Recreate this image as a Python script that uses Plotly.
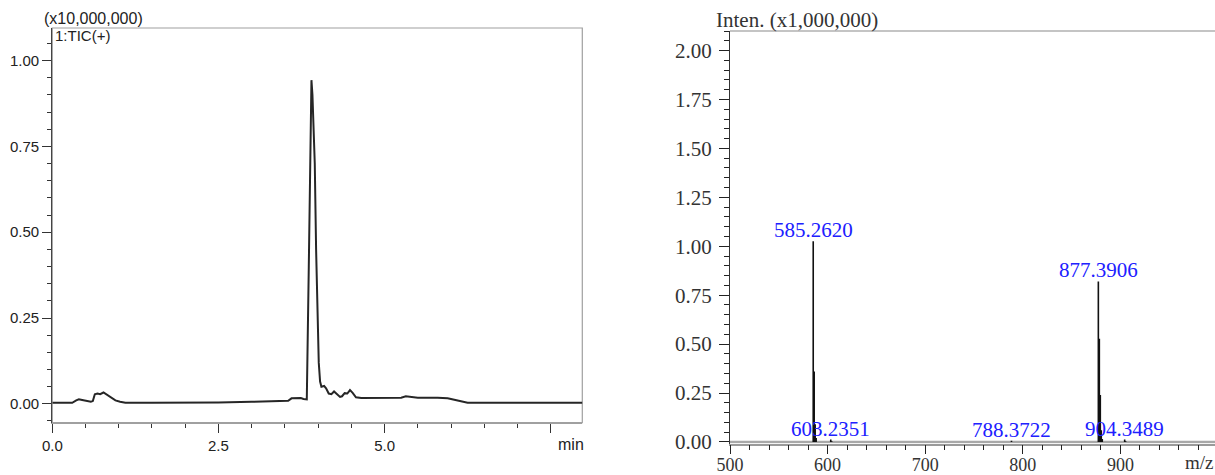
import plotly.graph_objects as go

W, H = 1215, 475

# ---------------- data ----------------
# Chromatogram (TIC), time in min, intensity in units of 10,000,000
tic_time = [0.00, 0.30, 0.36, 0.40, 0.45, 0.52, 0.58, 0.61, 0.64, 0.68, 0.72, 0.77, 0.82, 0.88,
            0.95, 1.02, 1.10, 1.50, 2.00, 2.50, 3.00, 3.40, 3.55, 3.60, 3.66, 3.70, 3.74, 3.78,
            3.82, 3.83, 3.86, 3.89, 3.90, 3.915, 3.93, 3.95, 3.97, 3.99, 4.01, 4.03, 4.05, 4.09,
            4.12, 4.16, 4.20, 4.24, 4.28, 4.33, 4.36, 4.40, 4.44, 4.48, 4.52, 4.57, 4.65, 5.00,
            5.25, 5.32, 5.38, 5.50, 5.80, 5.95, 6.05, 6.15, 6.25, 7.98]
tic_inten = [0.003, 0.003, 0.010, 0.013, 0.011, 0.008, 0.006, 0.008, 0.028, 0.030, 0.028, 0.033,
             0.026, 0.018, 0.010, 0.006, 0.003, 0.003, 0.003, 0.004, 0.006, 0.008, 0.009, 0.016,
             0.016, 0.015, 0.017, 0.014, 0.013, 0.013, 0.40, 0.90, 0.943, 0.90, 0.80, 0.70, 0.45,
             0.25, 0.12, 0.065, 0.050, 0.052, 0.045, 0.030, 0.028, 0.036, 0.028, 0.020, 0.022,
             0.031, 0.030, 0.040, 0.032, 0.019, 0.017, 0.017, 0.018, 0.022, 0.020, 0.018, 0.018,
             0.016, 0.012, 0.007, 0.003, 0.003]

# Mass spectrum, intensity in units of 1,000,000
ms_mz = [585.2620, 586.26, 587.26, 588.27, 603.2351, 604.24, 788.3722, 877.3906, 878.39, 879.39,
         880.39, 881.40, 904.3489, 905.35]
ms_inten = [1.025, 0.36, 0.09, 0.02, 0.012, 0.004, 0.006, 0.82, 0.527, 0.24, 0.06, 0.015, 0.012,
            0.004]
ms_labels = [585.2620, 603.2351, 788.3722, 877.3906, 904.3489]

tic_xticks = [0.0, 2.5, 5.0, 7.5]
tic_xticktext = ["0.0", "2.5", "5.0", ""]
tic_yticks = [0.0, 0.25, 0.50, 0.75, 1.00]
ms_xticks = [500, 600, 700, 800, 900]
ms_yticks = [0.0, 0.25, 0.50, 0.75, 1.00, 1.25, 1.50, 1.75, 2.00]

# ---------------- figure ----------------
def px(x):
    return x / W

def py(y):
    return 1 - y / H

fig = go.Figure()

fig.add_trace(go.Scatter(x=tic_time, y=tic_inten, mode="lines",
                         line=dict(color="#262626", width=2),
                         xaxis="x", yaxis="y", hoverinfo="skip", showlegend=False))

# baseline of spectrum
fig.add_trace(go.Scatter(x=[500, 1000], y=[0, 0], mode="lines",
                         line=dict(color="#a8a8a8", width=2.5),
                         xaxis="x2", yaxis="y2", hoverinfo="skip", showlegend=False))

sx, sy = [], []
for m, v in zip(ms_mz, ms_inten):
    sx += [m, m, None]
    sy += [0, v, None]
fig.add_trace(go.Scatter(x=sx, y=sy, mode="lines", line=dict(color="#111111", width=1.6),
                         xaxis="x2", yaxis="y2", hoverinfo="skip", showlegend=False))

sans = "Liberation Sans, Arial, sans-serif"
serif = "Liberation Serif, Times New Roman, serif"

annotations = []
for m in ms_labels:
    v = ms_inten[ms_mz.index(m)]
    annotations.append(dict(x=m, y=v, xref="x2", yref="y2", text=f"{m:.4f}", showarrow=False,
                            xanchor="center", yanchor="bottom", yshift=-3,
                            font=dict(family=serif, size=21, color="#2020ff")))

annotations += [
    dict(x=px(93), y=py(18), xref="paper", yref="paper", text="(x10,000,000)", showarrow=False,
         xanchor="center", yanchor="middle", font=dict(family=sans, size=16, color="#222")),
    dict(x=px(53), y=py(35), xref="paper", yref="paper", text="1:TIC(+)", showarrow=False,
         xanchor="left", yanchor="middle", font=dict(family=sans, size=15, color="#222")),
    dict(x=px(571), y=py(444), xref="paper", yref="paper", text="min", showarrow=False,
         xanchor="center", yanchor="middle", font=dict(family=sans, size=16, color="#222")),
    dict(x=px(714), y=py(20), xref="paper", yref="paper", text="Inten. (x1,000,000)",
         showarrow=False, xanchor="left", yanchor="middle",
         font=dict(family=serif, size=21, color="#333")),
    dict(x=px(1199), y=py(462), xref="paper", yref="paper", text="m/z", showarrow=False,
         xanchor="center", yanchor="middle", font=dict(family=serif, size=19, color="#333")),
]

shapes = [
    # left box (gray frame)
    dict(type="rect", xref="x domain", yref="y domain", x0=0, x1=1, y0=0, y1=1,
         line=dict(color="#a0a0a0", width=1.2), layer="below"),
    # right top frame line
    dict(type="line", xref="x2 domain", yref="y2 domain", x0=0, x1=1, y0=1, y1=1,
         line=dict(color="#8a8a8a", width=1.2)),
]

tickfont_l = dict(family=sans, size=15, color="#222")
tickfont_r = dict(family=serif, size=21, color="#333")

fig.update_layout(
    template="none",
    width=W, height=H,
    margin=dict(l=0, r=0, t=0, b=0, pad=0, autoexpand=False),
    paper_bgcolor="white", plot_bgcolor="white",
    showlegend=False,
    annotations=annotations,
    shapes=shapes,
    xaxis=dict(domain=[px(52.3), px(582.3)], range=[0, 7.976], anchor="y", automargin=False,
               tickmode="array", tickvals=tic_xticks, ticktext=tic_xticktext,
               ticks="outside", ticklen=9, tickwidth=1.2, tickcolor="#333",
               minor=dict(tickmode="linear", tick0=0, dtick=0.5, ticks="outside",
                          ticklen=4, tickwidth=1.2, tickcolor="#333"),
               showline=True, linecolor="#a0a0a0", linewidth=1.2,
               showgrid=False, zeroline=False, tickfont=tickfont_l),
    yaxis=dict(domain=[py(422.7), py(28)], range=[-0.055, 1.095], anchor="x", automargin=False,
               tickmode="array", tickvals=tic_yticks, tickformat=".2f",
               ticks="outside", ticklen=9, tickwidth=1.2, tickcolor="#333",
               minor=dict(tickmode="linear", tick0=0, dtick=0.05, ticks="outside",
                          ticklen=4, tickwidth=1.2, tickcolor="#333"),
               showline=True, linecolor="#444", linewidth=1.3,
               showgrid=False, zeroline=False, tickfont=tickfont_l),
    xaxis2=dict(domain=[px(730), 1.0], range=[500, 996.9], anchor="y2", automargin=False,
                tickmode="array", tickvals=ms_xticks,
                ticks="outside", ticklen=9, tickwidth=1.2, tickcolor="#222",
                minor=dict(tickmode="linear", tick0=500, dtick=20, ticks="outside",
                           ticklen=5, tickwidth=1.2, tickcolor="#222"),
                ticklabelstandoff=-5,
                showline=True, linecolor="#9a9a9a", linewidth=1.5,
                showgrid=False, zeroline=False,
                tickfont=dict(family=serif, size=18, color="#333")),
    yaxis2=dict(domain=[py(443.5), py(31)], range=[-0.008, 2.1], anchor="x2", automargin=False,
                tickmode="array", tickvals=ms_yticks, tickformat=".2f",
                ticks="outside", ticklen=10, tickwidth=1.2, tickcolor="#222",
                minor=dict(tickmode="linear", tick0=0, dtick=0.05, ticks="outside",
                           ticklen=5, tickwidth=1.2, tickcolor="#222"),
                ticklabelstandoff=3,
                showline=True, linecolor="#333", linewidth=1.3,
                showgrid=False, zeroline=False, tickfont=tickfont_r),
)

fig.write_html("out.html", config={"displayModeBar": False},
               post_script="document.body.style.margin='0';document.body.style.overflow='hidden';")
